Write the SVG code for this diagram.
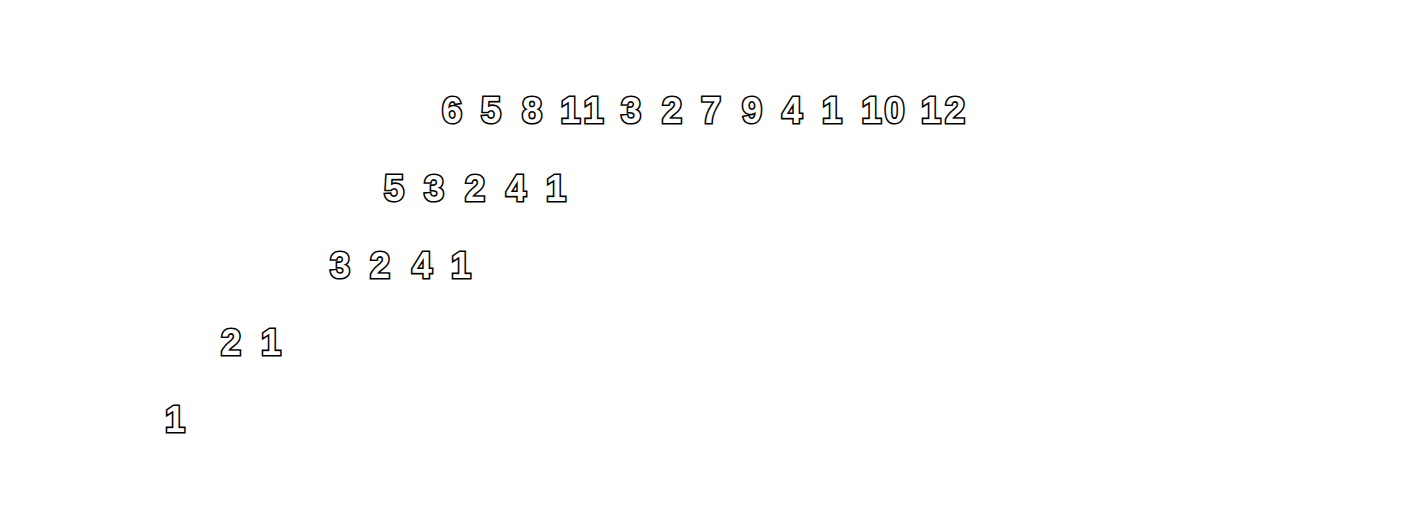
<svg xmlns="http://www.w3.org/2000/svg" width="1425" height="532" viewBox="0 0 1425 532">
<style>
text{font-family:"Liberation Sans",Arial,sans-serif;font-weight:bold;font-size:36px;fill:#fff;stroke:#000;stroke-width:3.2;stroke-linejoin:miter;text-anchor:middle;paint-order:stroke}
</style>
<rect width="1425" height="532" fill="#fff"/>
<g id="row1">
<text x="452" y="123">6</text><text x="491" y="123">5</text><text x="532" y="123">8</text><text x="582" y="123">1<tspan dx="5">1</tspan></text><text x="631" y="123">3</text><text x="672" y="123">2</text><text x="711" y="123">7</text><text x="752" y="123">9</text><text x="792" y="123">4</text><text x="832" y="123">1</text><text x="883" y="123">1<tspan dx="3">0</tspan></text><text x="943" y="123">1<tspan dx="4">2</tspan></text>
</g>
<g id="row2">
<text x="394" y="201">5</text><text x="434" y="201">3</text><text x="475" y="201">2</text><text x="516" y="201">4</text><text x="556" y="201">1</text>
</g>
<g id="row3">
<text x="340" y="278">3</text><text x="380" y="278">2</text><text x="422" y="278">4</text><text x="461" y="278">1</text>
</g>
<g id="row4">
<text x="231" y="355">2</text><text x="271" y="355">1</text>
</g>
<g id="row5">
<text x="175" y="432">1</text>
</g>
<g id="connectors"/>
</svg>
